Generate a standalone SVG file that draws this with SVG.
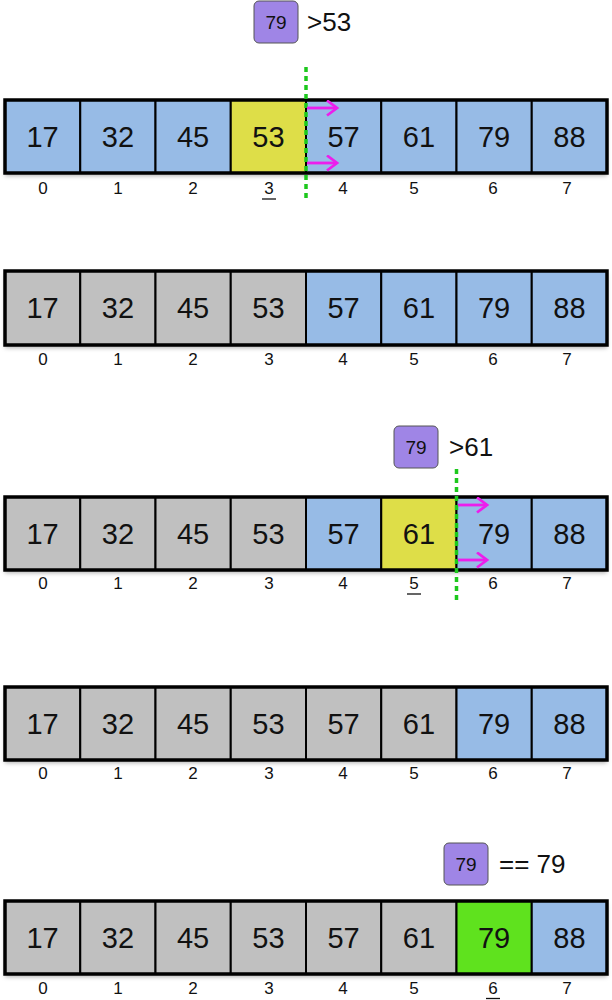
<svg xmlns="http://www.w3.org/2000/svg" width="612" height="1000" viewBox="0 0 612 1000">
<defs>
<filter id="sh" x="-5%" y="-20%" width="110%" height="150%">
<feDropShadow dx="0" dy="3" stdDeviation="2" flood-color="#000" flood-opacity="0.3"/>
</filter>
<marker id="ah" markerWidth="14" markerHeight="18" refX="11" refY="8.5" orient="auto" markerUnits="userSpaceOnUse">
<path d="M1,1 L11,8.5 L1,16" fill="none" stroke="#EC1EEC" stroke-width="2.8"/>
</marker>
</defs>
<style>
.b{fill:#97BBE6}.g{fill:#C0C0C0}.y{fill:#DEDE48}.gr{fill:#5FE21E}
.c{stroke:#000;stroke-width:2}
.o{fill:none;stroke:#000;stroke-width:3.5}
.n{font-family:"Liberation Sans",Arial,sans-serif;font-size:29px;text-anchor:middle;fill:#111}
.i{font-family:"Liberation Sans",Arial,sans-serif;font-size:17px;text-anchor:middle;fill:#111}
.p{fill:#9F85E6;stroke:#555;stroke-width:1}
.pt{font-family:"Liberation Sans",Arial,sans-serif;font-size:19px;text-anchor:middle;fill:#111}
.cmp{font-family:"Liberation Sans",Arial,sans-serif;font-size:26px;fill:#111}
.ul{stroke:#111;stroke-width:1.3}
.dash{stroke:#1CC81C;stroke-width:3.5;stroke-dasharray:5 4;fill:none}
.arr{stroke:#EC1EEC;stroke-width:2.8;fill:none;marker-end:url(#ah)}
</style>

<!-- Row 1 -->
<g id="row1">
<g filter="url(#sh)"><rect x="5" y="100" width="602" height="73" fill="#fff"/></g>
<g id="r1c0"><rect class="b c" x="5" y="100" width="75.25" height="73"/><text class="n" x="42.6" y="147">17</text><text class="i" x="43" y="194">0</text></g>
<g id="r1c1"><rect class="b c" x="80.25" y="100" width="75.25" height="73"/><text class="n" x="117.9" y="147">32</text><text class="i" x="118" y="194">1</text></g>
<g id="r1c2"><rect class="b c" x="155.5" y="100" width="75.25" height="73"/><text class="n" x="193.1" y="147">45</text><text class="i" x="193" y="194">2</text></g>
<g id="r1c3"><rect class="y c" x="230.75" y="100" width="75.25" height="73"/><text class="n" x="268.4" y="147">53</text><text class="i" x="269" y="194">3</text><line class="ul" x1="262" y1="199" x2="276" y2="199"/></g>
<g id="r1c4"><rect class="b c" x="306" y="100" width="75.25" height="73"/><text class="n" x="343.6" y="147">57</text><text class="i" x="343" y="194">4</text></g>
<g id="r1c5"><rect class="b c" x="381.25" y="100" width="75.25" height="73"/><text class="n" x="418.9" y="147">61</text><text class="i" x="414" y="194">5</text></g>
<g id="r1c6"><rect class="b c" x="456.5" y="100" width="75.25" height="73"/><text class="n" x="494.1" y="147">79</text><text class="i" x="493" y="194">6</text></g>
<g id="r1c7"><rect class="b c" x="531.75" y="100" width="75.25" height="73"/><text class="n" x="569.4" y="147">88</text><text class="i" x="567" y="194">7</text></g>
<rect class="o" x="5" y="100" width="602" height="73"/>
</g>
<g id="key1"><rect class="p" x="254" y="1" width="44" height="42" rx="5"/><text class="pt" x="276" y="29">79</text><text class="cmp" x="307" y="31">&gt;53</text></g>

<!-- Row 2 -->
<g id="row2">
<g filter="url(#sh)"><rect x="5" y="271" width="602" height="74" fill="#fff"/></g>
<g id="r2c0"><rect class="g c" x="5" y="271" width="75.25" height="74"/><text class="n" x="42.6" y="318">17</text><text class="i" x="43" y="365">0</text></g>
<g id="r2c1"><rect class="g c" x="80.25" y="271" width="75.25" height="74"/><text class="n" x="117.9" y="318">32</text><text class="i" x="118" y="365">1</text></g>
<g id="r2c2"><rect class="g c" x="155.5" y="271" width="75.25" height="74"/><text class="n" x="193.1" y="318">45</text><text class="i" x="193" y="365">2</text></g>
<g id="r2c3"><rect class="g c" x="230.75" y="271" width="75.25" height="74"/><text class="n" x="268.4" y="318">53</text><text class="i" x="269" y="365">3</text></g>
<g id="r2c4"><rect class="b c" x="306" y="271" width="75.25" height="74"/><text class="n" x="343.6" y="318">57</text><text class="i" x="343" y="365">4</text></g>
<g id="r2c5"><rect class="b c" x="381.25" y="271" width="75.25" height="74"/><text class="n" x="418.9" y="318">61</text><text class="i" x="414" y="365">5</text></g>
<g id="r2c6"><rect class="b c" x="456.5" y="271" width="75.25" height="74"/><text class="n" x="494.1" y="318">79</text><text class="i" x="493" y="365">6</text></g>
<g id="r2c7"><rect class="b c" x="531.75" y="271" width="75.25" height="74"/><text class="n" x="569.4" y="318">88</text><text class="i" x="567" y="365">7</text></g>
<rect class="o" x="5" y="271" width="602" height="74"/>
</g>

<!-- Row 3 -->
<g id="row3">
<g filter="url(#sh)"><rect x="5" y="497" width="602" height="73" fill="#fff"/></g>
<g id="r3c0"><rect class="g c" x="5" y="497" width="75.25" height="73"/><text class="n" x="42.6" y="544">17</text><text class="i" x="43" y="589">0</text></g>
<g id="r3c1"><rect class="g c" x="80.25" y="497" width="75.25" height="73"/><text class="n" x="117.9" y="544">32</text><text class="i" x="118" y="589">1</text></g>
<g id="r3c2"><rect class="g c" x="155.5" y="497" width="75.25" height="73"/><text class="n" x="193.1" y="544">45</text><text class="i" x="193" y="589">2</text></g>
<g id="r3c3"><rect class="g c" x="230.75" y="497" width="75.25" height="73"/><text class="n" x="268.4" y="544">53</text><text class="i" x="269" y="589">3</text></g>
<g id="r3c4"><rect class="b c" x="306" y="497" width="75.25" height="73"/><text class="n" x="343.6" y="544">57</text><text class="i" x="343" y="589">4</text></g>
<g id="r3c5"><rect class="y c" x="381.25" y="497" width="75.25" height="73"/><text class="n" x="418.9" y="544">61</text><text class="i" x="414" y="589">5</text><line class="ul" x1="407" y1="594" x2="421" y2="594"/></g>
<g id="r3c6"><rect class="b c" x="456.5" y="497" width="75.25" height="73"/><text class="n" x="494.1" y="544">79</text><text class="i" x="493" y="589">6</text></g>
<g id="r3c7"><rect class="b c" x="531.75" y="497" width="75.25" height="73"/><text class="n" x="569.4" y="544">88</text><text class="i" x="567" y="589">7</text></g>
<rect class="o" x="5" y="497" width="602" height="73"/>
</g>
<g id="key3"><rect class="p" x="394" y="426" width="44" height="42" rx="5"/><text class="pt" x="416" y="454">79</text><text class="cmp" x="449" y="456">&gt;61</text></g>

<!-- Row 4 -->
<g id="row4">
<g filter="url(#sh)"><rect x="5" y="687" width="602" height="73" fill="#fff"/></g>
<g id="r4c0"><rect class="g c" x="5" y="687" width="75.25" height="73"/><text class="n" x="42.6" y="734">17</text><text class="i" x="43" y="779">0</text></g>
<g id="r4c1"><rect class="g c" x="80.25" y="687" width="75.25" height="73"/><text class="n" x="117.9" y="734">32</text><text class="i" x="118" y="779">1</text></g>
<g id="r4c2"><rect class="g c" x="155.5" y="687" width="75.25" height="73"/><text class="n" x="193.1" y="734">45</text><text class="i" x="193" y="779">2</text></g>
<g id="r4c3"><rect class="g c" x="230.75" y="687" width="75.25" height="73"/><text class="n" x="268.4" y="734">53</text><text class="i" x="269" y="779">3</text></g>
<g id="r4c4"><rect class="g c" x="306" y="687" width="75.25" height="73"/><text class="n" x="343.6" y="734">57</text><text class="i" x="343" y="779">4</text></g>
<g id="r4c5"><rect class="g c" x="381.25" y="687" width="75.25" height="73"/><text class="n" x="418.9" y="734">61</text><text class="i" x="414" y="779">5</text></g>
<g id="r4c6"><rect class="b c" x="456.5" y="687" width="75.25" height="73"/><text class="n" x="494.1" y="734">79</text><text class="i" x="493" y="779">6</text></g>
<g id="r4c7"><rect class="b c" x="531.75" y="687" width="75.25" height="73"/><text class="n" x="569.4" y="734">88</text><text class="i" x="567" y="779">7</text></g>
<rect class="o" x="5" y="687" width="602" height="73"/>
</g>

<!-- Row 5 -->
<g id="row5">
<g filter="url(#sh)"><rect x="5" y="901" width="602" height="73" fill="#fff"/></g>
<g id="r5c0"><rect class="g c" x="5" y="901" width="75.25" height="73"/><text class="n" x="42.6" y="948">17</text><text class="i" x="43" y="994">0</text></g>
<g id="r5c1"><rect class="g c" x="80.25" y="901" width="75.25" height="73"/><text class="n" x="117.9" y="948">32</text><text class="i" x="118" y="994">1</text></g>
<g id="r5c2"><rect class="g c" x="155.5" y="901" width="75.25" height="73"/><text class="n" x="193.1" y="948">45</text><text class="i" x="193" y="994">2</text></g>
<g id="r5c3"><rect class="g c" x="230.75" y="901" width="75.25" height="73"/><text class="n" x="268.4" y="948">53</text><text class="i" x="269" y="994">3</text></g>
<g id="r5c4"><rect class="g c" x="306" y="901" width="75.25" height="73"/><text class="n" x="343.6" y="948">57</text><text class="i" x="343" y="994">4</text></g>
<g id="r5c5"><rect class="g c" x="381.25" y="901" width="75.25" height="73"/><text class="n" x="418.9" y="948">61</text><text class="i" x="414" y="994">5</text></g>
<g id="r5c6"><rect class="gr c" x="456.5" y="901" width="75.25" height="73"/><text class="n" x="494.1" y="948">79</text><text class="i" x="493" y="994">6</text><line class="ul" x1="486" y1="998.5" x2="500" y2="998.5"/></g>
<g id="r5c7"><rect class="b c" x="531.75" y="901" width="75.25" height="73"/><text class="n" x="569.4" y="948">88</text><text class="i" x="567" y="994">7</text></g>
<rect class="o" x="5" y="901" width="602" height="73"/>
</g>
<g id="key5"><rect class="p" x="444" y="843" width="44" height="42" rx="5"/><text class="pt" x="466" y="871">79</text><text class="cmp" x="499" y="873">== 79</text></g>

<!-- Connectors -->
<g id="connectors">
<line class="dash" x1="306" y1="67" x2="306" y2="200"/>
<line class="arr" x1="307" y1="108" x2="337" y2="108"/>
<line class="arr" x1="307" y1="163" x2="337" y2="163"/>
<line class="dash" x1="456.5" y1="469" x2="456.5" y2="600"/>
<line class="arr" x1="458" y1="505" x2="487" y2="505"/>
<line class="arr" x1="458" y1="560" x2="487" y2="560"/>
</g>
</svg>
